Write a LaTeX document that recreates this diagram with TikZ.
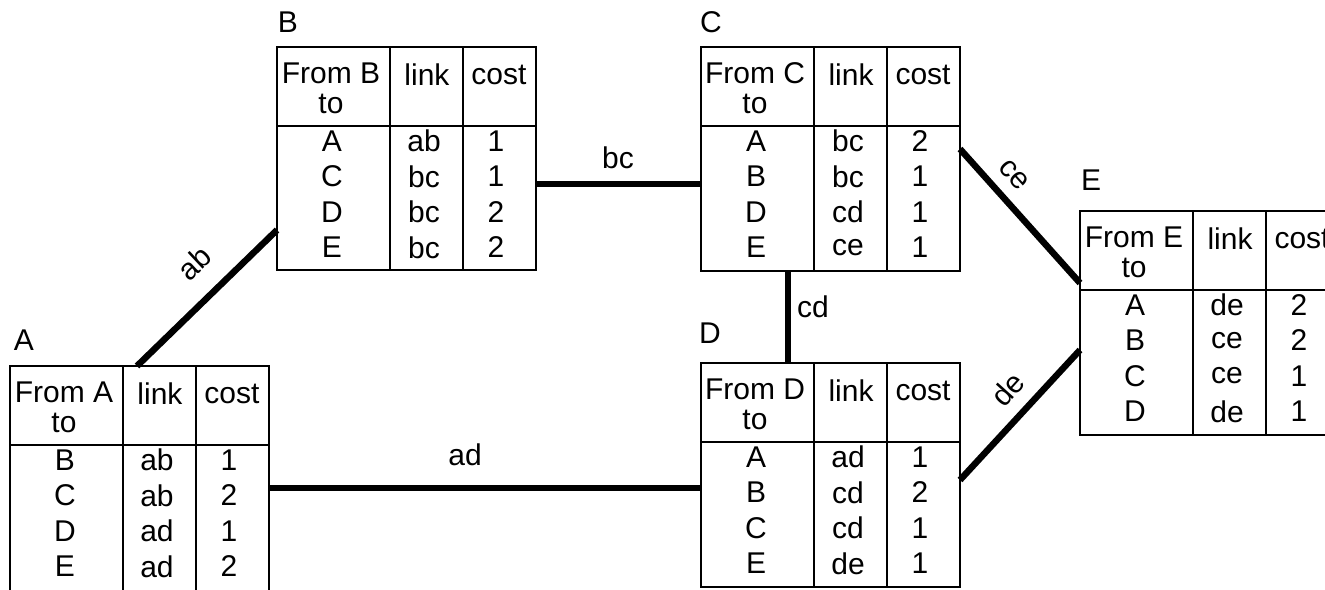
\documentclass[tikz,border=0pt]{standalone}
\usepackage{fontspec}
\setmainfont{Liberation Sans}
\usetikzlibrary{calc}
\tikzset{
  tbl/.style={draw, line width=1.6pt, inner sep=0pt, outer sep=0pt, minimum width=259pt, anchor=north west},
  grid/.style={line width=1.6pt},
  link/.style={line width=6.5pt},
  txt/.style={font=\fontsize{30}{36}\selectfont, inner sep=0pt, anchor=center},
  ttl/.style={font=\fontsize{30}{36}\selectfont, inner sep=0pt, anchor=center},
}
\newcommand{\routetable}[5]{%
  \node[tbl, minimum height=#5 pt] (#1) at (#2) {};
  \draw[grid] ($(#1.north west)+(113,0)$) -- ($(#1.south west)+(113,0)$);
  \draw[grid] ($(#1.north west)+(186,0)$) -- ($(#1.south west)+(186,0)$);
  \draw[grid] ($(#1.north west)+(0,79)$) -- ($(#1.north east)+(0,79)$);
  \node[txt] (#1h1) at ($(#1.north west)+(54,26)$) {From #3};
  \node[txt] (#1h2) at ($(#1.north west)+(54,57)$) {to};
  \node[txt] (#1h3) at ($(#1.north west)+(150,28)$) {link};
  \node[txt] (#1h4) at ($(#1.north west)+(222,28)$) {cost};
  \foreach \d/\l/\c [count=\i from 0] in {#4} {
    \node[txt] (#1r\i a) at ($(#1.north west)+(55,94+35.5*\i)$) {\d};
    \node[txt] (#1r\i b) at ($(#1.north west)+(147,94+35.5*\i)$) {\l};
    \node[txt] (#1r\i c) at ($(#1.north west)+(219,94+35.5*\i)$) {\c};
  }
}
\begin{document}
\begin{tikzpicture}[x=1pt,y=-1pt]
\useasboundingbox (0,0) rectangle (1325,589);

\routetable{tA}{10,366}{A}{B/ab/1, C/ab/2, D/ad/1, E/ad/2}{232}
\routetable{tB}{277,47}{B}{A/ab/1, C/bc/1, D/bc/2, E/bc/2}{223}
\routetable{tC}{701,47}{C}{A/bc/2, B/bc/1, D/cd/1, E/ce/1}{224}
\routetable{tD}{701,363}{D}{A/ad/1, B/cd/2, C/cd/1, E/de/1}{224}
\routetable{tE}{1080,211}{E}{A/de/2, B/ce/2, C/ce/1, D/de/1}{224}

\node[ttl] (lA) at (24,340) {A};
\node[ttl] (lB) at (288,22) {B};
\node[ttl] (lC) at (711,22) {C};
\node[ttl] (lD) at (710,333) {D};
\node[ttl] (lE) at (1091,180) {E};

\draw[link] ($(tA.north west)+(127,0)$) -- ($(tB.north west)+(0,183)$);
\draw[link] ($(tB.north east)+(0,137)$) -- ($(tC.north west)+(0,137)$);
\draw[link] ($(tC.south west)+(87,0)$) -- ($(tD.north west)+(87,0)$);
\draw[link] ($(tC.north east)+(0,102)$) -- ($(tE.north west)+(0,72)$);
\draw[link] ($(tD.north east)+(0,117)$) -- ($(tE.north west)+(0,139)$);
\draw[link] ($(tA.north east)+(0,122)$) -- ($(tD.north west)+(0,125)$);

\node[txt, rotate=43] (nab) at (194,263) {ab};
\node[txt] (nbc) at (618,158) {bc};
\node[txt] (ncd) at (813,307) {cd};
\node[txt, rotate=-48] (nce) at (1014,175) {ce};
\node[txt, rotate=48] (nde) at (1008,389) {de};
\node[txt] (nad) at (465,455) {ad};
\end{tikzpicture}
\end{document}
